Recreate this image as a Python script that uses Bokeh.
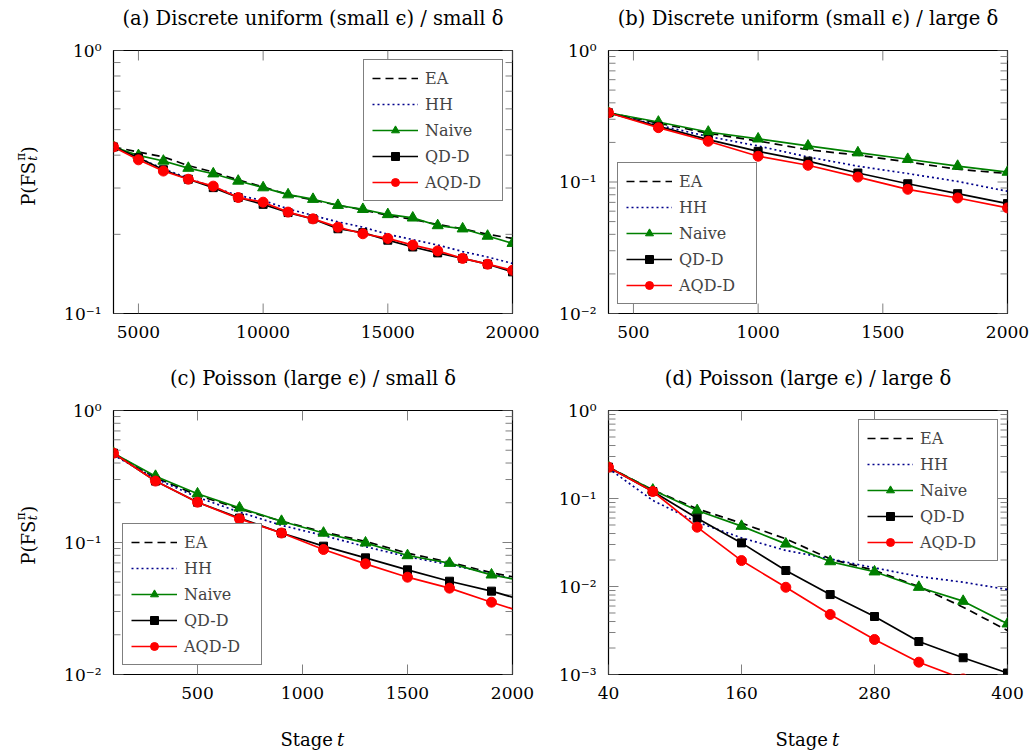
import math
from bokeh.plotting import figure
from bokeh.models import (FixedTicker, CustomJSTickFormatter, Legend, LegendItem,
                          ColumnDataSource, Range1d)
from bokeh.core.properties import value
from bokeh.layouts import column, row
from bokeh.embed import file_html
from bokeh.resources import INLINE

# ---------------- data ----------------
SERIES = ["EA", "HH", "Naive", "QD-D", "AQD-D"]

A_T = [4000, 5000, 6000, 7000, 8000, 9000, 10000, 11000, 12000, 13000, 14000,
       15000, 16000, 17000, 18000, 19000, 20000]
A_EA = [0.430, 0.411, 0.394, 0.365, 0.345, 0.322, 0.303, 0.283, 0.270, 0.258, 0.248,
        0.236, 0.228, 0.218, 0.210, 0.200, 0.193]
A_HH = [0.430, 0.390, 0.355, 0.327, 0.302, 0.281, 0.269, 0.250, 0.236, 0.223, 0.213,
        0.200, 0.191, 0.182, 0.172, 0.164, 0.155]
A_NAIVE = [0.430, 0.399, 0.380, 0.357, 0.340, 0.319, 0.301, 0.283, 0.272, 0.258, 0.249,
           0.238, 0.231, 0.216, 0.210, 0.197, 0.185]
A_QDD = [0.430, 0.391, 0.352, 0.324, 0.301, 0.276, 0.260, 0.242, 0.229, 0.210, 0.203,
         0.190, 0.179, 0.170, 0.162, 0.154, 0.144]
A_AQDD = [0.430, 0.384, 0.348, 0.324, 0.305, 0.276, 0.265, 0.243, 0.229, 0.213, 0.201,
          0.193, 0.182, 0.173, 0.162, 0.154, 0.146]

B_T = [400, 600, 800, 1000, 1200, 1400, 1600, 1800, 2000]
B_EA = [0.336, 0.280, 0.235, 0.205, 0.176, 0.160, 0.142, 0.125, 0.116]
B_HH = [0.336, 0.270, 0.222, 0.188, 0.155, 0.132, 0.116, 0.101, 0.085]
B_NAIVE = [0.336, 0.286, 0.240, 0.213, 0.188, 0.167, 0.149, 0.132, 0.119]
B_QDD = [0.336, 0.265, 0.210, 0.171, 0.144, 0.117, 0.097, 0.0815, 0.0685]
B_AQDD = [0.336, 0.259, 0.204, 0.157, 0.134, 0.109, 0.088, 0.0756, 0.0635]

C_T = [100, 300, 500, 700, 900, 1100, 1300, 1500, 1700, 1900, 2000]
C_EA = [0.475, 0.310, 0.228, 0.180, 0.145, 0.120, 0.102, 0.083, 0.071, 0.059, 0.055]
C_HH = [0.460, 0.305, 0.220, 0.170, 0.135, 0.113, 0.093, 0.078, 0.068, 0.058, 0.053]
C_NAIVE = [0.475, 0.318, 0.234, 0.183, 0.145, 0.118, 0.0994, 0.0797, 0.0697, 0.0569, 0.053]
C_QDD = [0.475, 0.292, 0.202, 0.153, 0.118, 0.0938, 0.0765, 0.0621, 0.0509, 0.0428, 0.0385]
C_AQDD = [0.475, 0.292, 0.202, 0.151, 0.118, 0.0885, 0.0689, 0.0546, 0.0451, 0.0353, 0.0314]
C_MARKED = 10  # markers are drawn on the first 10 stages only

D_T = [40, 80, 120, 160, 200, 240, 280, 320, 360, 400]
D_EA = [0.227, 0.125, 0.0763, 0.0525, 0.0348, 0.0206, 0.0152, 0.0100, 0.00582, 0.00316]
D_HH = [0.220, 0.095, 0.0538, 0.0357, 0.0257, 0.0206, 0.0163, 0.0130, 0.0112, 0.00924]
D_NAIVE = [0.227, 0.125, 0.0731, 0.0485, 0.0305, 0.0192, 0.0147, 0.00982, 0.00681, 0.00377]
D_QDD = [0.227, 0.120, 0.0598, 0.0313, 0.0152, 0.0081, 0.00456, 0.00237, 0.00155, 0.00104]
D_AQDD = [0.227, 0.120, 0.0472, 0.0197, 0.0098, 0.00481, 0.0025, 0.00138, 0.00089, 0.00056]

TITLES = ["(a) Discrete uniform (small \u03f5) / small \u03b4",
          "(b) Discrete uniform (small \u03f5) / large \u03b4",
          "(c) Poisson (large \u03f5) / small \u03b4",
          "(d) Poisson (large \u03f5) / large \u03b4"]
X_TICKS = [[5000, 10000, 15000, 20000], [500, 1000, 1500, 2000],
           [500, 1000, 1500, 2000], [40, 160, 280, 400]]
X_RANGES = [(4000, 20000), (400, 2000), (100, 2000), (40, 400)]
Y_DECADES = [(-1, 0), (-2, 0), (-2, 0), (-3, 0)]
LEGEND_LOC = ["top_right", "bottom_left", "bottom_left", "top_right"]
Y_LABEL = ["P(FS", "t", "\u03c0", ")"]
X_LABEL = ["Stage", "t"]

# ---------------- styles ----------------
FONT = "DejaVu Serif"
GREEN = "#008000"
NAVY = "#00008b"
STYLE = {
    "EA": dict(color="black", dash="8 5", marker=None),
    "HH": dict(color=NAVY, dash="2 3", marker=None),
    "Naive": dict(color=GREEN, dash="solid", marker="triangle", size=11),
    "QD-D": dict(color="black", dash="solid", marker="square", size=8),
    "AQD-D": dict(color="red", dash="solid", marker="circle", size=10),
}
TICK_COLOR = "#808080"
MAJOR_LEN = 10   # px
MINOR_LEN = 7    # px

sup_js = """
const e = Math.round(Math.log10(tick));
const m = {'-':'\u207b','0':'\u2070','1':'\u00b9','2':'\u00b2','3':'\u00b3'};
return '10' + String(e).split('').map(c => m[c]).join('');
"""


def style_axis(ax):
    ax.major_tick_in = 0
    ax.major_tick_out = 0
    ax.minor_tick_in = 0
    ax.minor_tick_out = 0
    ax.major_tick_line_color = None
    ax.minor_tick_line_color = None
    ax.axis_line_color = None
    ax.major_label_text_font = FONT
    ax.major_label_text_font_size = "17px"
    ax.major_label_text_color = "black"
    ax.major_label_standoff = 12


def add_tick_marks(p, xticks, yticks_major, yticks_minor, xr, yr, fw, fh):
    """Inward tick marks on all four sides of the frame (mirrored like pgfplots)."""
    x0, x1 = xr
    y0, y1 = yr
    dec = math.log10(y1) - math.log10(y0)
    xs0, xs1, ys0, ys1 = [], [], [], []
    # x ticks, bottom and top
    fy = 10 ** (MAJOR_LEN * dec / fh)
    for xv in xticks:
        xs0 += [xv, xv]
        xs1 += [xv, xv]
        ys0 += [y0, y1]
        ys1 += [y0 * fy, y1 / fy]
    # y ticks, left and right
    for yv_list, L in ((yticks_major, MAJOR_LEN), (yticks_minor, MINOR_LEN)):
        dx = L * (x1 - x0) / fw
        for yv in yv_list:
            xs0 += [x0, x1]
            xs1 += [x0 + dx, x1 - dx]
            ys0 += [yv, yv]
            ys1 += [yv, yv]
    src = ColumnDataSource(dict(x0=xs0, y0=ys0, x1=xs1, y1=ys1))
    p.segment("x0", "y0", "x1", "y1", source=src, line_color=TICK_COLOR, line_width=1)


def make_panel(idx, t, series, width, height, bl, br, bt, bb, n_marked=None):
    lo, hi = Y_DECADES[idx]
    majors = [10.0 ** e for e in range(lo, hi + 1)]
    minors = [k * 10.0 ** e for e in range(lo, hi) for k in range(2, 10)]
    xr = X_RANGES[idx]
    yr = (majors[0], majors[-1])
    p = figure(width=width, height=height, y_axis_type="log",
               x_range=Range1d(*xr), y_range=Range1d(*yr),
               output_backend="svg", toolbar_location=None,
               min_border_left=bl, min_border_right=br, min_border_top=bt, min_border_bottom=bb)
    p.title.visible = False
    p.grid.visible = False
    p.outline_line_color = "black"
    p.outline_line_width = 1.2
    p.background_fill_color = "white"
    p.border_fill_color = "white"

    p.yaxis.ticker = FixedTicker(ticks=majors, minor_ticks=minors)
    p.xaxis.ticker = FixedTicker(ticks=X_TICKS[idx], minor_ticks=[])
    p.yaxis.formatter = CustomJSTickFormatter(code=sup_js)
    style_axis(p.yaxis[0])
    style_axis(p.xaxis[0])

    fw = width - bl - br
    fh = height - bt - bb
    add_tick_marks(p, X_TICKS[idx], majors, minors, xr, yr, fw, fh)

    items = []
    for name, ys in zip(SERIES, series):
        st = STYLE[name]
        src = ColumnDataSource(dict(x=t, y=ys))
        rl = p.line("x", "y", source=src, line_color=st["color"], line_width=1.7,
                    line_dash=st["dash"])
        rends = [rl]
        if st["marker"]:
            k = len(t) if n_marked is None else n_marked
            msrc = ColumnDataSource(dict(x=t[:k], y=ys[:k]))
            rm = p.scatter("x", "y", source=msrc, marker=st["marker"], size=st["size"],
                           fill_color=st["color"], line_color=st["color"])
            rends.append(rm)
        items.append(LegendItem(label=name, renderers=rends))

    leg = Legend(items=items, location=LEGEND_LOC[idx])
    leg.margin = 9
    leg.padding = 8
    leg.spacing = 6
    leg.glyph_width = 46
    leg.glyph_height = 20
    leg.label_height = 20
    leg.label_width = 69
    leg.label_standoff = 7
    leg.label_text_font = FONT
    leg.label_text_font_size = "16px"
    leg.border_line_color = "black"
    leg.border_line_width = 1
    leg.background_fill_alpha = 1.0
    p.add_layout(leg, "center")
    return p


def blank_strip(width, height):
    s = figure(width=width, height=height, x_range=Range1d(0, width), y_range=Range1d(0, height),
               output_backend="svg", toolbar_location=None, min_border=0)
    s.title.visible = False
    s.axis.visible = False
    s.grid.visible = False
    s.outline_line_color = None
    s.border_fill_color = "white"
    s.background_fill_color = "white"
    return s


def ylabel_strip(width, height, base_x, base_y):
    s = blank_strip(width, height)
    main, sub, sup, close = Y_LABEL
    w_main = 53   # advance of the main run along the rotated baseline
    w_script = 9
    common = dict(angle=math.pi / 2, text_align="left", text_baseline="alphabetic",
                  text_font=value(FONT), text_color="black")
    s.text(x=[base_x], y=[base_y], text=[main], text_font_size=value("18px"), **common)
    s.text(x=[base_x + 4], y=[base_y + w_main], text=[sub], text_font_size=value("12px"),
           text_font_style="italic", **common)
    s.text(x=[base_x - 8], y=[base_y + w_main], text=[sup], text_font_size=value("12px"),
           **common)
    s.text(x=[base_x], y=[base_y + w_main + w_script], text=[close],
           text_font_size=value("18px"), **common)
    return s


def title_strip(width, height, centers, texts, base_y):
    s = blank_strip(width, height)
    s.text(x=centers, y=[base_y] * len(centers), text=texts, text_align="center",
           text_baseline="alphabetic", text_font=value(FONT), text_font_size=value("19.5px"),
           text_color="black")
    return s


def xlabel_strip(width, height, centers, base_y):
    s = blank_strip(width, height)
    word, var = X_LABEL
    for c in centers:
        s.text(x=[c + 20], y=[base_y], text=[word], text_align="right",
               text_baseline="alphabetic", text_font=value(FONT),
               text_font_size=value("18px"), text_color="black")
        s.text(x=[c + 24], y=[base_y], text=[var], text_align="left",
               text_baseline="alphabetic", text_font=value(FONT), text_font_style="italic",
               text_font_size=value("18px"), text_color="black")
    return s


W = 1032
YL_W = 45
CENTERS = [312.5, 807.5]
# row 1: title strip 0-35, panels 35-345 (frame 50-313)
t1 = title_strip(W, 35, CENTERS, TITLES[:2], 35 - 18)
pa = make_panel(0, A_T, [A_EA, A_HH, A_NAIVE, A_QDD, A_AQDD], 540 - YL_W, 310, 113 - YL_W, 28, 15, 32)
pb = make_panel(1, B_T, [B_EA, B_HH, B_NAIVE, B_QDD, B_AQDD], 492, 310, 68, 25, 15, 32)
yl1 = ylabel_strip(YL_W, 310, 28, 310 - (218 - 35))
# row 2: title strip 345-395, panels 395-710 (frame 410-674)
t2 = title_strip(W, 50, CENTERS, TITLES[2:], 50 - 33)
pc = make_panel(2, C_T, [C_EA, C_HH, C_NAIVE, C_QDD, C_AQDD], 540 - YL_W, 315, 113 - YL_W, 28, 15, 36,
                n_marked=C_MARKED)
pd = make_panel(3, D_T, [D_EA, D_HH, D_NAIVE, D_QDD, D_AQDD], 492, 315, 68, 25, 15, 36)
yl2 = ylabel_strip(YL_W, 315, 28, 315 - (579 - 395))
xl = xlabel_strip(W, 40, CENTERS, 11)

layout = column(t1, row(yl1, pa, pb), t2, row(yl2, pc, pd), xl)
open("out.html", "w").write(file_html(layout, INLINE))
